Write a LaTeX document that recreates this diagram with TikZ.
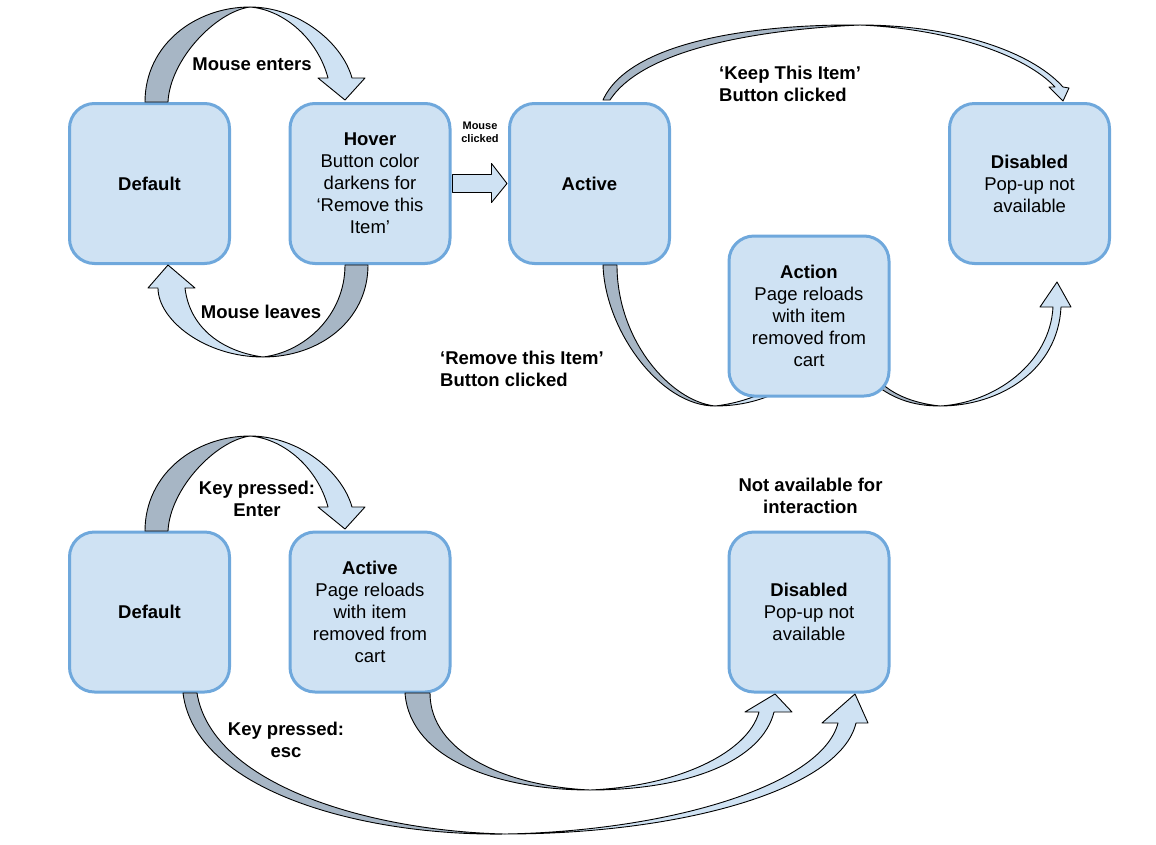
\documentclass[tikz,border=0pt]{standalone}
\usepackage{fontspec}
\setmainfont{Liberation Sans}
\usetikzlibrary{calc}
\definecolor{boxfill}{HTML}{CFE2F3}
\definecolor{boxline}{HTML}{6FA8DC}
\definecolor{bandgrey}{HTML}{A7B6C5}
\tikzset{
 statebox/.style={draw=boxline, line width=3pt, fill=boxfill, rounded corners=25pt, minimum width=160pt, minimum height=160pt, inner sep=0pt, align=center, font=\fontsize{18.5}{22}\selectfont},
 lbl/.style={font=\fontsize{18.5}{22}\selectfont\bfseries, align=center, inner sep=0pt},
 smalllbl/.style={font=\fontsize{11}{13}\selectfont\bfseries, align=center, inner sep=0pt},
 back/.style={draw=black, line width=0.9pt, fill=bandgrey, line join=round},
 front/.style={draw=black, line width=0.9pt, fill=boxfill, line join=round},
}
\begin{document}
\begin{tikzpicture}[x=1pt,y=-1pt]
\useasboundingbox (0,0) rectangle (1156,844);

% boxes (except Action)
\node[statebox] (def1) at (149.5,183.5) {\textbf{Default}};
\node[statebox] (hover) at (370,183.5) {\textbf{Hover}\\Button color\\darkens for\\‘Remove this\\Item’};
\node[statebox] (active1) at (589.5,183.5) {\textbf{Active}};
\node[statebox] (dis1) at (1029.5,183.5) {\textbf{Disabled}\\Pop-up not\\available};
\node[statebox] (def2) at (149.5,612) {\textbf{Default}};
\node[statebox] (active2) at (370,612) {\textbf{Active}\\Page reloads\\with item\\removed from\\cart};
\node[statebox] (dis2) at (809,612) {\textbf{Disabled}\\Pop-up not\\available};

% Remove this Item (behind Action box)
\draw[back] (603,265) .. controls (605,330) and (660,406) .. (715,406) .. controls (670,401) and (617,340) .. (617,265) -- cycle;
\draw[front] (715,406) .. controls (745,406) and (770,398) .. (790,385) -- (786,379) .. controls (768,393) and (742,403) .. (715,406) -- cycle;
% Action -> Disabled (start behind Action box)
\draw[back] (870,380) .. controls (890,398) and (912,406) .. (940,406) .. controls (912,403) and (890,394) .. (874,376) -- cycle;
\draw[front] (940,406) .. controls (1000,406) and (1058,370) .. (1061,307) -- (1071,307) -- (1057,282) -- (1040,307) -- (1053,307) .. controls (1050,363) and (995,403) .. (940,406) -- cycle;

\node[statebox] (action) at (809,316) {\textbf{Action}\\Page reloads\\with item\\removed from\\cart};

% Mouse enters
\draw[back] (145,102) .. controls (145,45) and (195,7) .. (250,7) .. controls (215,12) and (170,60) .. (168,102) -- cycle;
\draw[front] (250,7) .. controls (298,7) and (342,42) .. (352,78) -- (365,78) -- (345,100) -- (318,78) -- (328,78) .. controls (318,40) and (285,10) .. (250,7) -- cycle;
% Mouse leaves
\draw[back] (368,265) .. controls (368,320) and (320,357) .. (263,357) .. controls (305,352) and (345,315) .. (345,265) -- cycle;
\draw[front] (263,357) .. controls (205,357) and (158,320) .. (158,288) -- (148,288) -- (168,265) -- (195,288) -- (185,288) .. controls (190,330) and (225,352) .. (263,357) -- cycle;
% Mouse clicked
\draw[front] ($(hover.east)+(1,-9)$) -- ($(hover.east)+(40,-9)$) -- ($(hover.east)+(40,-20)$) -- ($(active1.west)+(-1,0)$) -- ($(hover.east)+(40,19)$) -- ($(hover.east)+(40,9)$) -- ($(hover.east)+(1,9)$) -- cycle;
% Keep This Item
\draw[back] (603,100) .. controls (630,40) and (760,24) .. (860,25) .. controls (770,29) and (645,46) .. (610,100) -- cycle;
\draw[front] (860,25) .. controls (950,25) and (1030,50) .. (1063,87) -- (1069,88) -- (1063,101) -- (1049,87) -- (1055,87) .. controls (1025,55) and (950,29) .. (860,25) -- cycle;
% Key pressed: Enter
\begin{scope}[shift={(0,429)}]
\draw[back] (145,102) .. controls (145,45) and (195,7) .. (250,7) .. controls (215,12) and (170,60) .. (168,102) -- cycle;
\draw[front] (250,7) .. controls (298,7) and (342,42) .. (352,78) -- (365,78) -- (345,100) -- (318,78) -- (328,78) .. controls (318,40) and (285,10) .. (250,7) -- cycle;
\end{scope}
% Active -> Disabled (bottom)
\draw[back] (405,693) .. controls (410,760) and (500,790) .. (590,790) .. controls (505,786) and (430,752) .. (430,693) -- cycle;
\draw[front] (590,790) .. controls (690,790) and (762,760) .. (774,712) -- (792,712) -- (775,694) -- (745,712) -- (759,712) .. controls (748,752) and (680,786) .. (590,790) -- cycle;
% Key pressed: esc
\draw[back] (183,693) .. controls (195,790) and (360,836) .. (505,834) .. controls (370,831) and (212,785) .. (197,693) -- cycle;
\draw[front] (505,834) .. controls (680,834) and (840,790) .. (856,723) -- (868,723) -- (855,694) -- (822,723) -- (838,723) .. controls (822,785) and (670,831) .. (505,834) -- cycle;

% labels
\node[lbl] (lenter) at (252,64) {Mouse enters};
\node[lbl] (lleave) at (261,312) {Mouse leaves};
\node[smalllbl] (lclick) at (480,132) {Mouse\\clicked};
\node[lbl, anchor=west, align=left] (lkeep) at (719,84) {‘Keep This Item’\\Button clicked};
\node[lbl, anchor=west, align=left] (lremove) at (440,369) {‘Remove this Item’\\Button clicked};
\node[lbl] (lkenter) at (257,499) {Key pressed:\\Enter};
\node[lbl] (lna) at (810.5,496) {Not available for\\interaction};
\node[lbl] (lesc) at (286,740) {Key pressed:\\esc};
\end{tikzpicture}
\end{document}
